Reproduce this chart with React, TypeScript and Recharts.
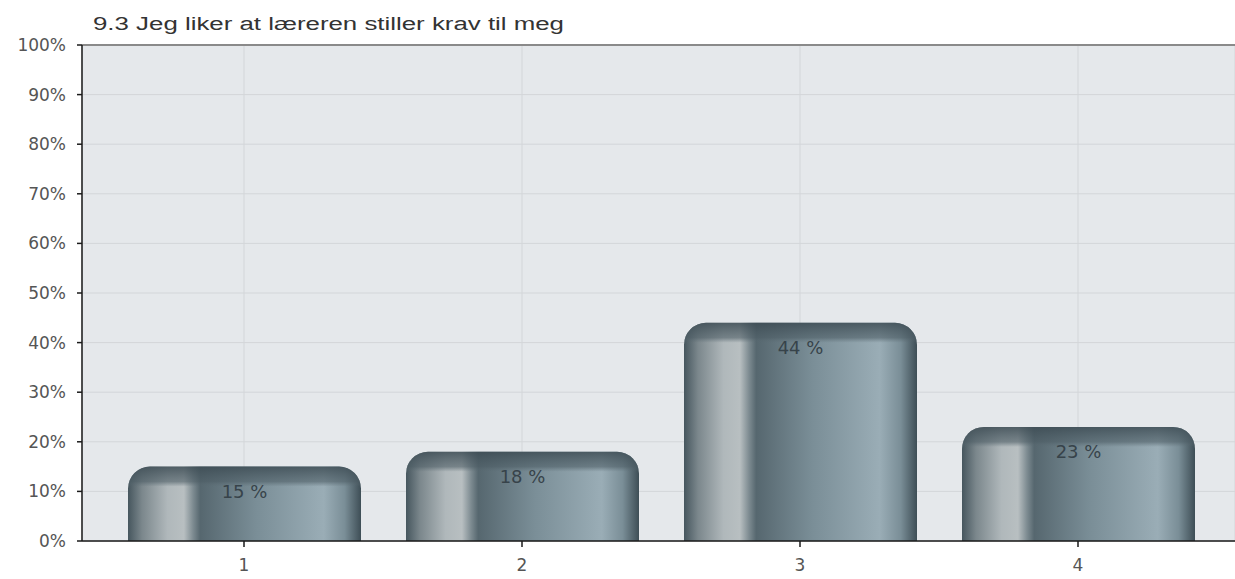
import React from 'react';
import { BarChart, Bar, XAxis, YAxis, CartesianGrid, LabelList, ReferenceLine } from 'recharts';

const categories: string[] = ['1', '2', '3', '4'];
const values: number[] = [15, 18, 44, 23];
const yTicks: number[] = [0, 10, 20, 30, 40, 50, 60, 70, 80, 90, 100];
const title = '9.3 Jeg liker at læreren stiller krav til meg';

const data = categories.map((c, i) => ({ category: c, value: values[i] }));

function RoundedBar(props: any) {
  const { x, y, width, height, index } = props;
  if (!height || height <= 0) return null;
  const r = Math.min(22, height, width / 2);
  const d = `M${x},${y + height} L${x},${y + r} A${r},${r} 0 0 1 ${x + r},${y} L${x + width - r},${y} A${r},${r} 0 0 1 ${x + width},${y + r} L${x + width},${y + height} Z`;
  const gid = `cap${index}`;
  return (
    <g>
      <defs>
        <linearGradient id={gid} gradientUnits="userSpaceOnUse" x1="0" y1={y} x2="0" y2={y + 20}>
          <stop offset="0" stopColor="#3d4c54" stopOpacity={0.85} />
          <stop offset="0.75" stopColor="#4d5d65" stopOpacity={0.6} />
          <stop offset="0.9" stopColor="#56666e" stopOpacity={0.25} />
          <stop offset="1" stopColor="#56666e" stopOpacity={0} />
        </linearGradient>
      </defs>
      <path d={d} fill="url(#barGrad)" />
      <path d={d} fill={`url(#${gid})`} />
    </g>
  );
}

function ValueLabel(props: any) {
  const { x, y, width, value } = props;
  return (
    <text
      x={x + width / 2}
      y={y + 26}
      textAnchor="middle"
      dominantBaseline="middle"
      fontFamily="DejaVu Sans"
      fontSize={18}
      fill="#37434a"
    >
      {`${value} %`}
    </text>
  );
}

export default function App() {
  return (
    <div style={{ position: 'absolute', left: 0, top: 0, width: 1235, height: 579, background: '#ffffff' }}>
      <BarChart
        width={1235}
        height={579}
        data={data}
        margin={{ top: 45, right: 0, bottom: 0, left: 0 }}
        barSize={233}
      >
        <defs>
          <linearGradient id="barGrad" x1="0" y1="0" x2="1" y2="0">
            <stop offset="0" stopColor="#46565e" />
            <stop offset="0.06" stopColor="#7b878c" />
            <stop offset="0.17" stopColor="#b0b8bb" />
            <stop offset="0.24" stopColor="#b8bfc1" />
            <stop offset="0.28" stopColor="#7c8a90" />
            <stop offset="0.31" stopColor="#56676f" />
            <stop offset="0.55" stopColor="#7a8e97" />
            <stop offset="0.84" stopColor="#9aadb6" />
            <stop offset="0.93" stopColor="#7a8e97" />
            <stop offset="1" stopColor="#3e4e56" />
          </linearGradient>
        </defs>
        <text
          x={93}
          y={30}
          fontFamily="Liberation Sans, Arial, sans-serif"
          fontSize={18}
          fill="#333333"
          textLength={471}
          lengthAdjust="spacingAndGlyphs"
        >
          {title}
        </text>
        <CartesianGrid stroke="#d3d6d9" fill="#e5e8eb" strokeWidth={1} />
        <XAxis
          dataKey="category"
          padding={{ left: 23, right: 18 }}
          height={38}
          tickSize={6}
          tickMargin={12}
          axisLine={{ stroke: '#1a1a1a', strokeWidth: 1.5 }}
          tickLine={{ stroke: '#1a1a1a', strokeWidth: 1.5 }}
          tick={{ fill: '#555555', fontSize: 17, fontFamily: 'DejaVu Sans' }}
        />
        <YAxis
          domain={[0, 100]}
          ticks={yTicks}
          width={82}
          interval={0}
          tickSize={5}
          tickMargin={11}
          tickFormatter={(v: number) => `${v}%`}
          axisLine={{ stroke: '#1a1a1a', strokeWidth: 1.5 }}
          tickLine={{ stroke: '#1a1a1a', strokeWidth: 1.5 }}
          tick={{ fill: '#555555', fontSize: 17, fontFamily: 'DejaVu Sans' }}
        />
        <ReferenceLine y={100} stroke="#8a8a8a" strokeWidth={2} />
        <Bar dataKey="value" shape={<RoundedBar />} isAnimationActive={false}>
          <LabelList dataKey="value" content={<ValueLabel />} />
        </Bar>
      </BarChart>
    </div>
  );
}
